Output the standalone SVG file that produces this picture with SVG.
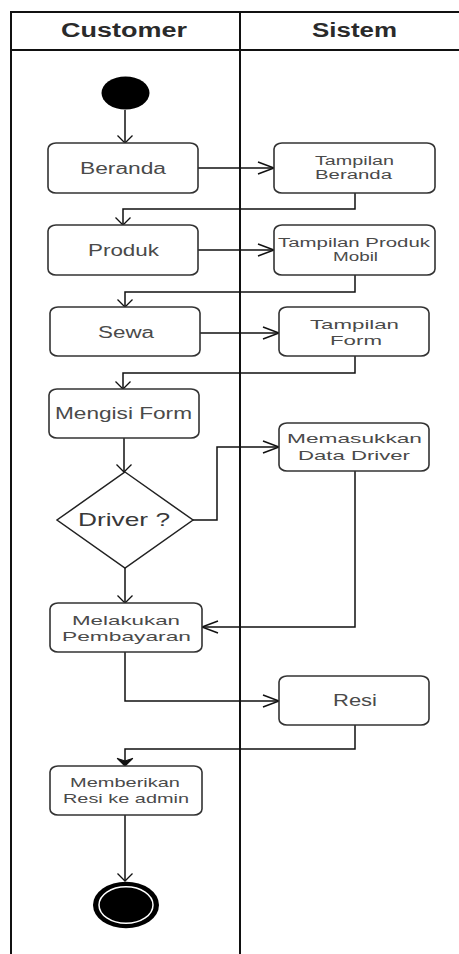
<svg xmlns="http://www.w3.org/2000/svg" width="459" height="954" viewBox="0 0 459 954">
  <style>
    .lane { fill: none; stroke: #111; stroke-width: 2; }
    .act { fill: #fff; stroke: #333; stroke-width: 1.6; }
    .dec { fill: #fff; stroke: #222; stroke-width: 1.5; }
    .flow { fill: none; stroke: #111; stroke-width: 1.5; }
    .hdr { font-family: "Liberation Sans", Arial, sans-serif; font-weight: bold; font-size: 19.5px; fill: #2a2a2a; text-anchor: middle; }
    .lbl { font-family: "Liberation Sans", Arial, sans-serif; font-size: 16px; fill: #4a4a4a; text-anchor: middle; }
    .sm { font-size: 12.5px; }
    .md { font-size: 13.5px; }
    .big { font-size: 18.5px; fill: #383838; }
  </style>
  <defs>
    <!-- open arrowhead for flows entering from the side -->
    <marker id="arrowSide" markerUnits="userSpaceOnUse" markerWidth="20" markerHeight="20" viewBox="-18 -10 20 20" refX="0" refY="0" orient="auto" overflow="visible">
      <path d="M -16 -6 L 0 0 L -16 6" fill="none" stroke="#111" stroke-width="1.5"/>
    </marker>
    <!-- open arrowhead for flows entering from above -->
    <marker id="arrowDown" markerUnits="userSpaceOnUse" markerWidth="20" markerHeight="20" viewBox="-12 -12 14 24" refX="0" refY="0" orient="auto" overflow="visible">
      <path d="M -9 -9 L 0 0 L -9 9" fill="none" stroke="#111" stroke-width="1.5"/>
    </marker>
    <!-- filled arrowhead -->
    <marker id="arrowFill" markerUnits="userSpaceOnUse" markerWidth="20" markerHeight="20" viewBox="-12 -12 14 24" refX="0" refY="0" orient="auto" overflow="visible">
      <path d="M -9 -9 L 0 0 L -9 9 L -6 0 Z" fill="#111" stroke="#111" stroke-width="1.5" stroke-linejoin="round"/>
    </marker>
  </defs>

  <rect width="459" height="954" fill="#fff"/>

  <!-- swimlanes -->
  <g id="lanes">
    <path class="lane" d="M 459 12 L 11 12 L 11 954"/>
    <path class="lane" d="M 11 50 L 459 50"/>
    <path class="lane" d="M 240 12 L 240 954"/>
    <text class="hdr" x="124" y="37" textLength="126" lengthAdjust="spacingAndGlyphs">Customer</text>
    <text class="hdr" x="354.5" y="37" textLength="85" lengthAdjust="spacingAndGlyphs">Sistem</text>
  </g>

  <!-- connectors -->
  <g id="connectors">
    <path class="flow" d="M 125 110 L 125 143" marker-end="url(#arrowDown)"/>
    <path class="flow" d="M 198 168 L 274 168" marker-end="url(#arrowSide)"/>
    <path class="flow" d="M 355 193 L 355 209 L 123 209 L 123 225" marker-end="url(#arrowDown)"/>
    <path class="flow" d="M 198 250 L 274 250" marker-end="url(#arrowSide)"/>
    <path class="flow" d="M 355 275 L 355 292 L 125 292 L 125 307" marker-end="url(#arrowDown)"/>
    <path class="flow" d="M 200 333 L 279 333" marker-end="url(#arrowSide)"/>
    <path class="flow" d="M 355 356 L 355 373 L 123 373 L 123 389" marker-end="url(#arrowDown)"/>
    <path class="flow" d="M 124 438 L 124 472" marker-end="url(#arrowDown)"/>
    <path class="flow" d="M 193 520 L 217 520 L 217 447 L 279 447" marker-end="url(#arrowSide)"/>
    <path class="flow" d="M 125 568 L 125 603" marker-end="url(#arrowDown)"/>
    <path class="flow" d="M 355 471 L 355 627 L 202 627" marker-end="url(#arrowSide)"/>
    <path class="flow" d="M 125 652 L 125 701 L 279 701" marker-end="url(#arrowSide)"/>
    <path class="flow" d="M 355 725 L 355 749 L 125 749 L 125 766" marker-end="url(#arrowFill)"/>
    <path class="flow" d="M 125 815 L 125 881" marker-end="url(#arrowDown)"/>
  </g>

  <!-- nodes -->
  <g id="start">
    <ellipse cx="125.5" cy="93" rx="24" ry="16.5" fill="#000"/>
  </g>

  <g id="beranda">
    <rect class="act" x="48" y="143" width="150" height="50" rx="8" ry="6"/>
    <text class="lbl" x="123" y="174.3" textLength="86" lengthAdjust="spacingAndGlyphs">Beranda</text>
  </g>

  <g id="tampilan-beranda">
    <rect class="act" x="274" y="143" width="161" height="50" rx="8" ry="6"/>
    <text class="lbl sm" x="354.5" y="164.5" textLength="79" lengthAdjust="spacingAndGlyphs">Tampilan</text>
    <text class="lbl sm" x="353.5" y="179" textLength="77" lengthAdjust="spacingAndGlyphs">Beranda</text>
  </g>

  <g id="produk">
    <rect class="act" x="48" y="225" width="150" height="50" rx="8" ry="6"/>
    <text class="lbl" x="123.5" y="255.7" textLength="71" lengthAdjust="spacingAndGlyphs">Produk</text>
  </g>

  <g id="tampilan-produk-mobil">
    <rect class="act" x="274" y="225" width="161" height="50" rx="8" ry="6"/>
    <text class="lbl sm" x="354" y="246.5" textLength="152" lengthAdjust="spacingAndGlyphs">Tampilan Produk</text>
    <text class="lbl sm" x="355.5" y="260.5" textLength="45" lengthAdjust="spacingAndGlyphs">Mobil</text>
  </g>

  <g id="sewa">
    <rect class="act" x="50" y="307" width="150" height="49" rx="8" ry="6"/>
    <text class="lbl" x="126" y="337.7" textLength="56" lengthAdjust="spacingAndGlyphs">Sewa</text>
  </g>

  <g id="tampilan-form">
    <rect class="act" x="279" y="307" width="150" height="49" rx="8" ry="6"/>
    <text class="lbl md" x="354.5" y="329.3" textLength="89" lengthAdjust="spacingAndGlyphs">Tampilan</text>
    <text class="lbl md" x="356" y="345" textLength="52" lengthAdjust="spacingAndGlyphs">Form</text>
  </g>

  <g id="mengisi-form">
    <rect class="act" x="49" y="389" width="150" height="49" rx="8" ry="6"/>
    <text class="lbl" x="123.5" y="419.3" textLength="137" lengthAdjust="spacingAndGlyphs">Mengisi Form</text>
  </g>

  <g id="driver">
    <polygon class="dec" points="125,472 193,520 125,568 57,520"/>
    <text class="lbl big" x="124" y="526" textLength="92" lengthAdjust="spacingAndGlyphs">Driver ?</text>
  </g>

  <g id="memasukkan-data-driver">
    <rect class="act" x="279" y="423" width="150" height="48" rx="8" ry="6"/>
    <text class="lbl md" x="354.5" y="443.3" textLength="135" lengthAdjust="spacingAndGlyphs">Memasukkan</text>
    <text class="lbl md" x="354" y="460" textLength="112" lengthAdjust="spacingAndGlyphs">Data Driver</text>
  </g>

  <g id="melakukan-pembayaran">
    <rect class="act" x="50" y="603" width="152" height="49" rx="8" ry="6"/>
    <text class="lbl md" x="126" y="625" textLength="108" lengthAdjust="spacingAndGlyphs">Melakukan</text>
    <text class="lbl md" x="126.5" y="640.5" textLength="129" lengthAdjust="spacingAndGlyphs">Pembayaran</text>
  </g>

  <g id="resi">
    <rect class="act" x="279" y="676" width="150" height="49" rx="8" ry="6"/>
    <text class="lbl" x="355" y="706" textLength="44" lengthAdjust="spacingAndGlyphs">Resi</text>
  </g>

  <g id="memberikan-resi">
    <rect class="act" x="50" y="766" width="152" height="49" rx="8" ry="6"/>
    <text class="lbl md" x="125" y="786.7" textLength="110" lengthAdjust="spacingAndGlyphs">Memberikan</text>
    <text class="lbl md" x="126" y="803.3" textLength="126" lengthAdjust="spacingAndGlyphs">Resi ke admin</text>
  </g>

  <g id="end">
    <ellipse cx="126" cy="905" rx="33" ry="23.3" fill="#000"/>
    <ellipse cx="126" cy="905" rx="27" ry="18.3" fill="#000" stroke="#fff" stroke-width="1.5"/>
  </g>
</svg>
